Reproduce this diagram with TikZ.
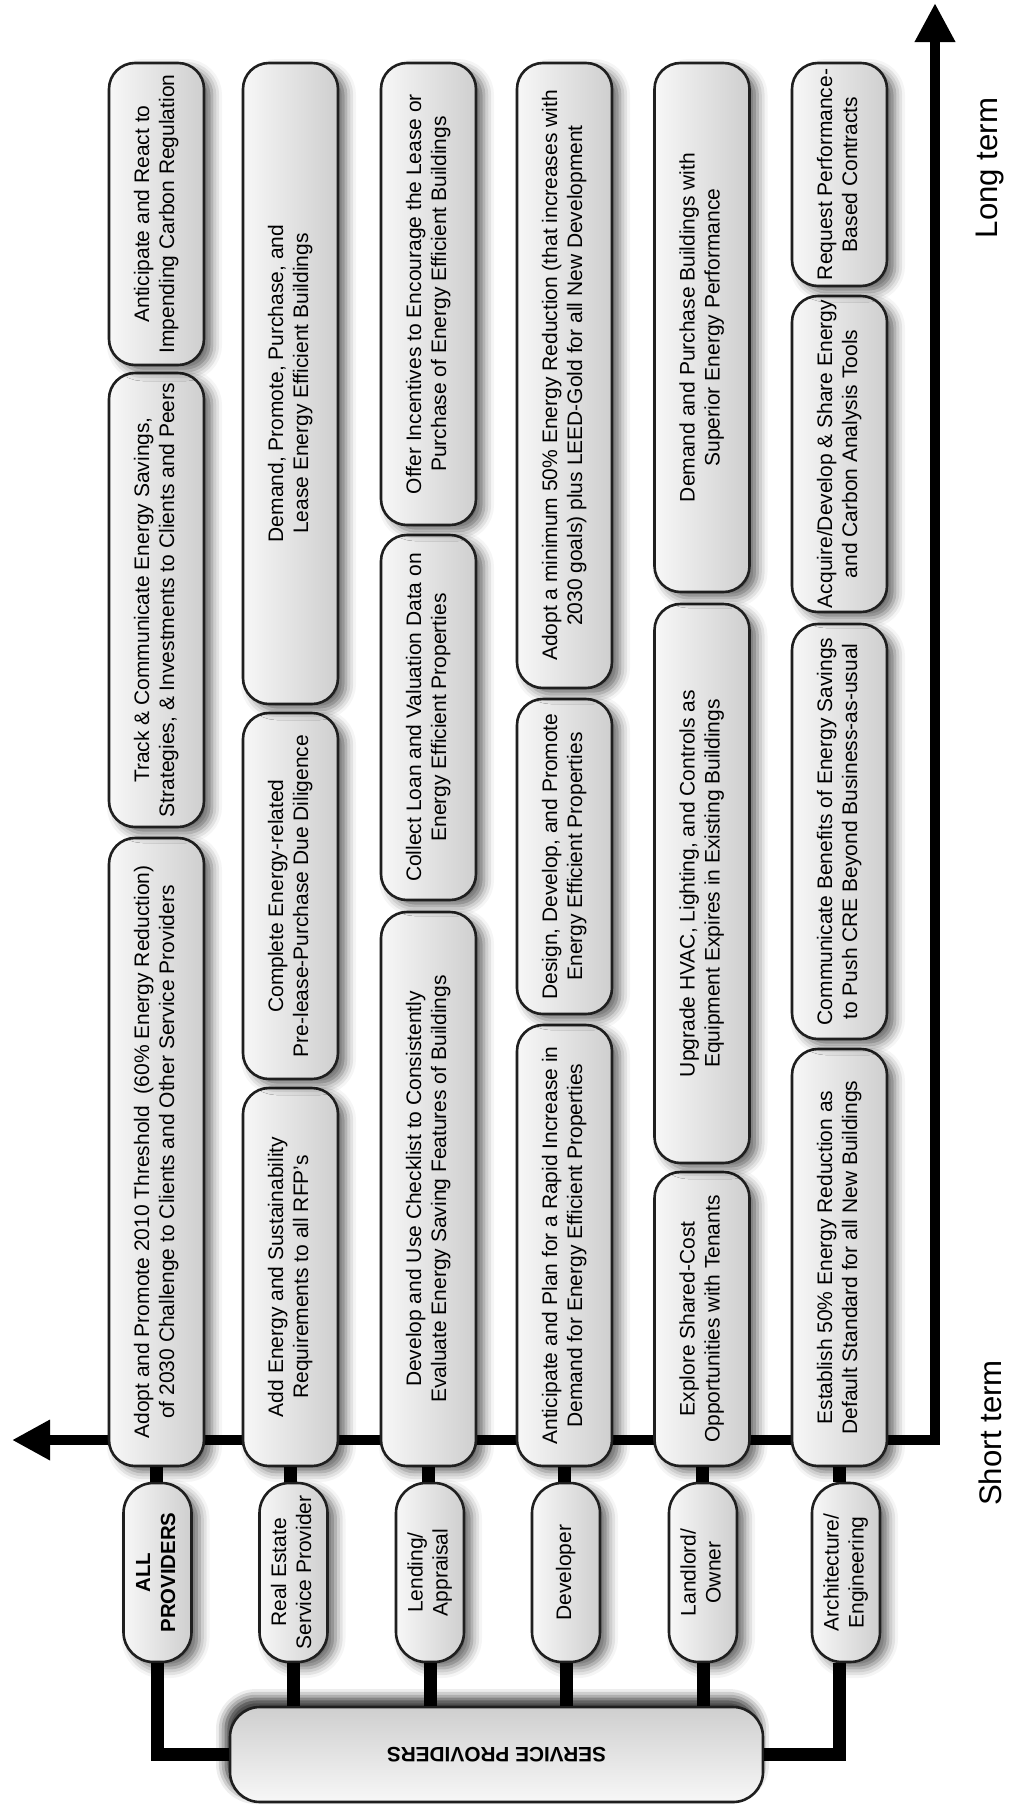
\documentclass[tikz,border=0pt]{standalone}
\usepackage{fontspec}
\setmainfont{Liberation Sans}
\usepackage{graphicx}
\usetikzlibrary{arrows.meta,shadows.blur}
\newcommand\fsz{\fontsize{10.5pt}{12.5pt}\selectfont}
\newcommand\vtxt[1]{\rotatebox{90}{\begin{tabular}{@{}c@{}}#1\end{tabular}}}
\tikzset{
  abox/.style={draw=black!88, line width=1.3pt, rounded corners=13pt,
    left color=white!97!black, right color=black!19,
    minimum width=47.5pt, inner sep=0pt, align=center, font=\fsz,
    blur shadow={shadow xshift=4pt, shadow yshift=-3pt, shadow blur radius=5pt, shadow opacity=60}},
  pbox/.style={abox, minimum width=34pt, minimum height=89.5pt, rounded corners=15pt},
  conn/.style={line width=6.5pt, black},
  tline/.style={line width=5.3pt, black, line join=miter,
    {Triangle[length=19pt,width=19pt]}-{Triangle[length=19.5pt,width=19pt]}},
  term/.style={font=\fontsize{15.6pt}{18pt}\selectfont},
}
\begin{document}
\begin{tikzpicture}[x=0.5pt,y=-0.5pt]
\useasboundingbox (0,0) rectangle (1008,1805);
% timeline
\coordinate (tleft) at (12,1440);
\coordinate (tcorner) at (935,1440);
\coordinate (ttop) at (935,3);
\draw[tline] (tleft) -- (tcorner) -- (ttop);
\node[term] (lt) at (990,168) {\rotatebox{90}{Long term}};
\node[term] (st) at (990,1433) {\rotatebox{90}{Short term}};
% column 1
\node[abox, minimum height=314pt] (A1) at (156.5,1152) {\vtxt{Adopt and Promote 2010 Threshold~ (60\% Energy Reduction)\\of 2030 Challenge to Clients and Other Service Providers}};
\node[abox, minimum height=227pt] (A2) at (156.5,600) {\vtxt{Track \& Communicate Energy Savings,\\Strategies, \& Investments to Clients and Peers}};
\node[abox, minimum height=151pt] (A3) at (156.5,214) {\vtxt{Anticipate and React to\\Impending Carbon Regulation}};
% column 2
\node[abox, minimum height=189pt] (B1) at (290.5,1277) {\vtxt{Add Energy and Sustainability\\Requirements to all RFP’s}};
\node[abox, minimum height=183pt] (B2) at (290.5,896) {\vtxt{Complete Energy-related\\Pre-lease-Purchase Due Diligence}};
\node[abox, minimum height=320.5pt] (B3) at (290.5,383.5) {\vtxt{Demand, Promote, Purchase, and\\Lease Energy Efficient Buildings}};
% column 3
\node[abox, minimum height=277pt] (C1) at (428.5,1189) {\vtxt{Develop and Use Checklist to Consistently\\Evaluate Energy Saving Features of Buildings}};
\node[abox, minimum height=182.5pt] (C2) at (428.5,717.5) {\vtxt{Collect Loan and Valuation Data on\\Energy Efficient Properties}};
\node[abox, minimum height=231pt] (C3) at (428.5,294) {\vtxt{Offer Incentives to Encourage the Lease or\\Purchase of Energy Efficient Buildings}};
% column 4
\node[abox, minimum height=220.5pt] (D1) at (564.5,1245.5) {\vtxt{Anticipate and Plan for a Rapid Increase in\\Demand for Energy Efficient Properties}};
\node[abox, minimum height=157.5pt] (D2) at (564.5,856.5) {\vtxt{Design, Develop, and Promote\\Energy Efficient Properties}};
\node[abox, minimum height=312.5pt] (D3) at (564.5,375.5) {\vtxt{Adopt a minimum 50\% Energy Reduction (that increases with\\2030 goals) plus LEED-Gold for all New Development}};
% column 5
\node[abox, minimum height=147pt] (E1) at (702,1319) {\vtxt{Explore Shared-Cost\\Opportunities with Tenants}};
\node[abox, minimum height=279.5pt] (E2) at (702,883.5) {\vtxt{Upgrade HVAC, Lighting, and Controls as\\Equipment Expires in Existing Buildings}};
\node[abox, minimum height=264.5pt] (E3) at (702,327.5) {\vtxt{Demand and Purchase Buildings with\\Superior Energy Performance}};
% column 6
\node[abox, minimum height=208.5pt] (F1) at (839.5,1257.5) {\vtxt{Establish 50\% Energy Reduction as\\Default Standard for all New Buildings}};
\node[abox, minimum height=207.5pt] (F2) at (839.5,831.5) {\vtxt{Communicate Benefits of Energy Savings\\to Push CRE Beyond Business-as-usual}};
\node[abox, minimum height=158pt] (F3) at (839.5,454) {\vtxt{Acquire/Develop \& Share Energy\\and Carbon Analysis Tools}};
\node[abox, minimum height=111.5pt] (F4) at (839.5,174.5) {\vtxt{Request Performance-\\Based Contracts}};
% providers
\node[pbox, font=\fontsize{10.2pt}{12.5pt}\selectfont] (p1) at (157.5,1572.5) {\vtxt{\textbf{ALL}\\\textbf{PROVIDERS}}};
\node[pbox] (p2) at (293.5,1572.5) {\vtxt{Real Estate\\Service Provider}};
\node[pbox] (p3) at (430,1572.5) {\vtxt{Lending/\\Appraisal}};
\node[pbox] (p4) at (566,1572.5) {\vtxt{Developer}};
\node[pbox] (p5) at (703,1572.5) {\vtxt{Landlord/\\Owner}};
\node[pbox] (p6) at (846,1572.5) {\vtxt{Architecture/\\Engineering}};
\node[abox, minimum width=266.5pt, minimum height=47.5pt, rounded corners=15pt,
  top color=black!19, bottom color=white!97!black,
  blur shadow={shadow xshift=-2pt, shadow yshift=4pt, shadow blur radius=5pt, shadow opacity=55}]
  (sp) at (496.5,1754.5) {\rotatebox{180}{\fontsize{10.4pt}{12.5pt}\selectfont\bfseries SERVICE PROVIDERS}};
% connectors action -> provider
\foreach \a/\p in {A1/p1,B1/p2,C1/p3,D1/p4,E1/p5}
  \draw[conn] (\a.south) -- (\a.south |- \p.north);
\draw[conn] (F1.south) -- (F1.south |- p6.north);
% providers -> service providers
\foreach \p in {p2,p3,p4,p5}
  \draw[conn] (\p.south) -- (\p.south |- sp.north);
\draw[conn, line join=miter] (p1.south) |- (sp.west);
\draw[conn, line join=miter] (p6.south -| F1.south) |- (sp.east);
\end{tikzpicture}
\end{document}
